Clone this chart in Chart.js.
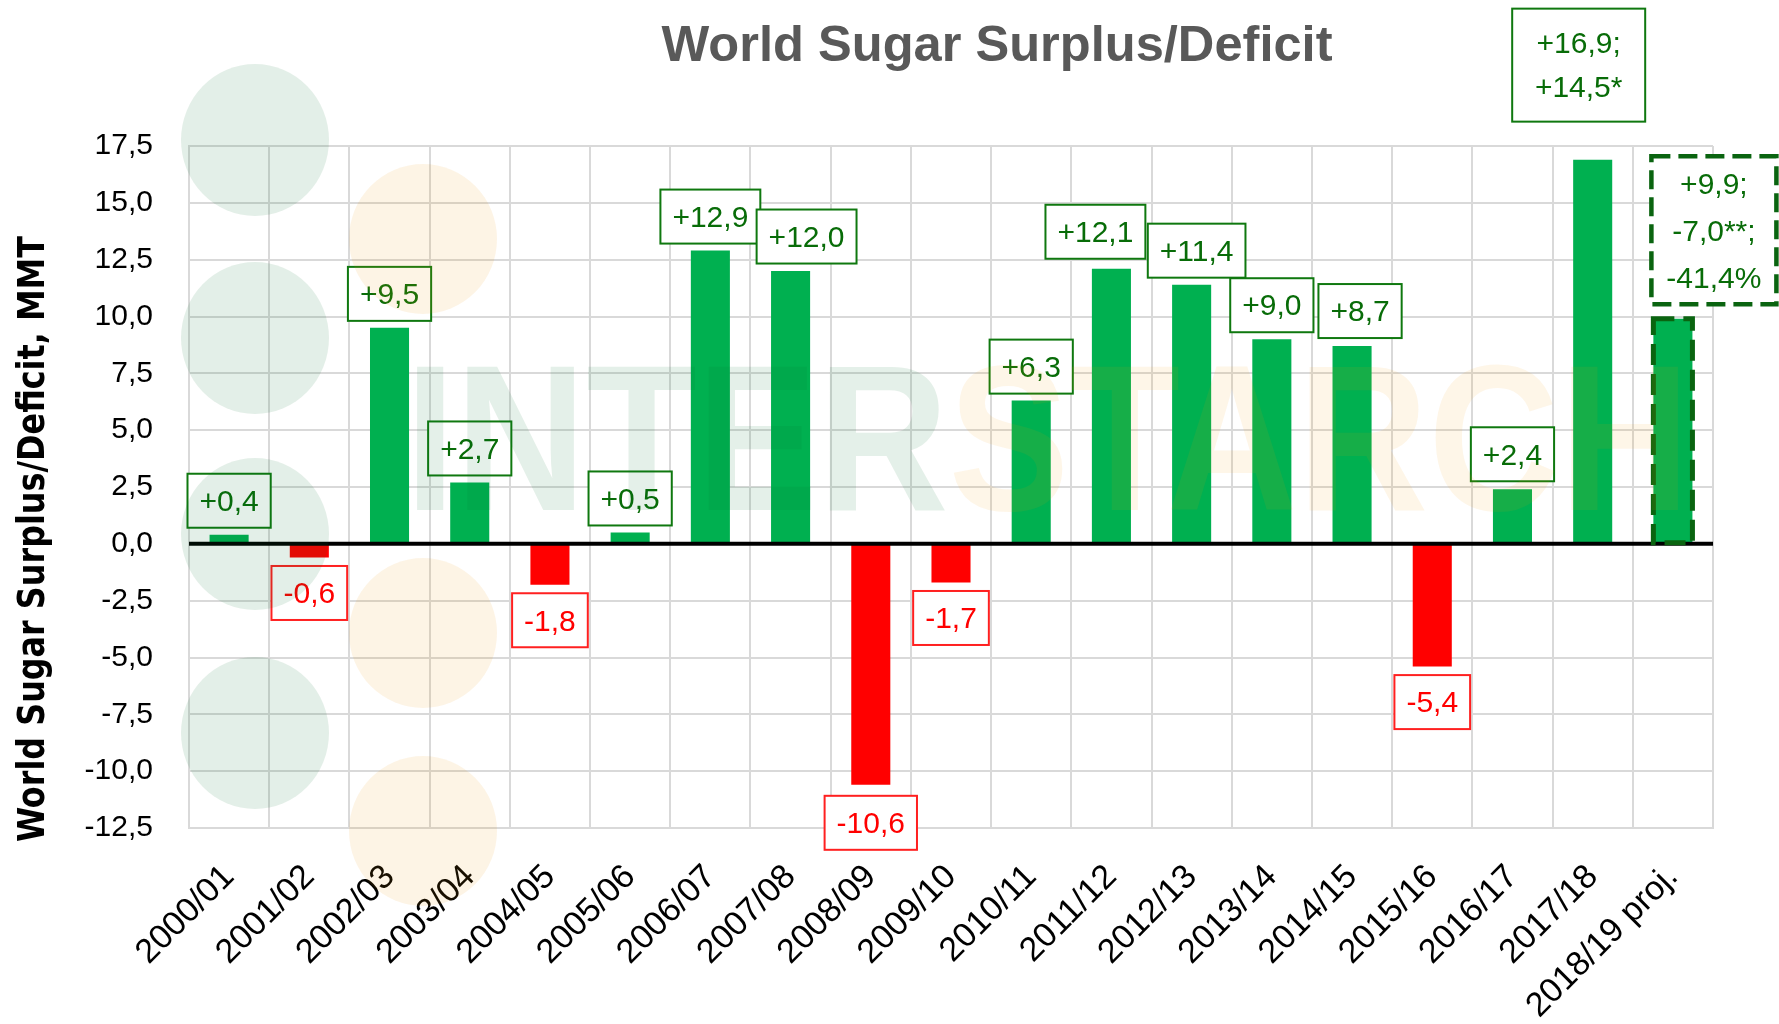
<!DOCTYPE html>
<html>
<head>
<meta charset="utf-8">
<script src="https://cdn.jsdelivr.net/npm/chart.js@4.4.1/dist/chart.umd.min.js"></script>
<style>
html,body{margin:0;padding:0;background:#fff;overflow:hidden;}
#wrap{width:1779px;height:1024px;}
canvas{display:block;}
</style>
</head>
<body>
<div id="wrap"><canvas id="c" width="1779" height="1024" style="width:1779px;height:1024px"></canvas></div>
<script>
// ---------- data ----------
const categories = ['2000/01','2001/02','2002/03','2003/04','2004/05','2005/06','2006/07','2007/08','2008/09','2009/10','2010/11','2011/12','2012/13','2013/14','2014/15','2015/16','2016/17','2017/18','2018/19 proj.'];
const surplusDeficit = [0.4,-0.6,9.5,2.7,-1.8,0.5,12.9,12.0,-10.6,-1.7,6.3,12.1,11.4,9.0,8.7,-5.4,2.4,16.9,9.9];
const altEstimate = [null,null,null,null,null,null,null,null,null,null,null,null,null,null,null,null,null,14.5,-7.0];
const altMarks = ['','','','','','','','','','','','','','','','','','*','**'];
const changePct = [null,null,null,null,null,null,null,null,null,null,null,null,null,null,null,null,null,null,-41.4];
const yTickValues = [-12.5,-10,-7.5,-5,-2.5,0,2.5,5,7.5,10,12.5,15,17.5];
const chartTitle = 'World Sugar Surplus/Deficit';
const yAxisTitle = 'World Sugar Surplus/Deficit, MMT';
const watermarkParts = ['INTER','STARCH'];

// ---------- label layout (positions/styles, not data) ----------
const labelDX  = [0,0,0,0,0,0,0,16,0,0,0,-16,5,0,8,0,0,-14,41];
const labelGap = [7,8.5,7,7,8.5,7,7,7.5,11,8.5,7,10,7,7,8,8.5,8,38,14.5];
const multiBox = {17:{w:133,h:113,lh:44,dashed:false}, 18:{w:125,h:148,lh:47,dashed:true}};

const GREEN = '#00B050', RED = '#FF0000';
const LBL_GREEN_TEXT = '#086C08', LBL_GREEN_BORDER = '#0F780F', DASH_GREEN = '#0A6410';
const FONT = '"Liberation Sans", Arial, sans-serif';

function fmt(v){ return (v>0?'+':'') + v.toFixed(1).replace('.',','); }
function labelLines(i){
  const lines = [fmt(surplusDeficit[i])];
  if (altEstimate[i] != null){
    lines[0] += ';';
    lines.push(fmt(altEstimate[i]) + altMarks[i] + (changePct[i] != null ? ';' : ''));
  }
  if (changePct[i] != null) lines.push(fmt(changePct[i]) + '%');
  return lines;
}

function fitText(c, text, x, y, width, align){
  const w = c.measureText(text).width;
  const s = width / w;
  c.save();
  c.translate(x, y);
  c.scale(s, 1);
  c.textAlign = align || 'center';
  c.fillText(text, 0, 0);
  c.restore();
}

const deco = {
  id: 'deco',
  beforeDraw(chart){
    const c = chart.ctx;
    c.save(); c.fillStyle = '#fff'; c.fillRect(0,0,chart.width,chart.height); c.restore();
  },
  afterDatasetsDraw(chart){
    const c = chart.ctx, a = chart.chartArea, ys = chart.scales.y;
    const meta = chart.getDatasetMeta(0);
    // zero axis line
    const y0 = ys.getPixelForValue(0);
    c.save();
    c.strokeStyle = '#000'; c.lineWidth = 4;
    c.beginPath(); c.moveTo(a.left, y0); c.lineTo(a.right, y0); c.stroke();
    c.restore();
    // dashed outline of projected bar
    const last = meta.data[meta.data.length-1];
    const lp = last.getProps(['x','y','base','width'], true);
    c.save();
    c.strokeStyle = DASH_GREEN; c.lineWidth = 5; c.setLineDash([21,9]);
    c.strokeRect(lp.x - lp.width/2, lp.y, lp.width, lp.base - lp.y);
    c.restore();
    // value labels
    meta.data.forEach((el, i) => {
      const p = el.getProps(['x','y','base'], true);
      const v = surplusDeficit[i];
      const lines = labelLines(i);
      c.save();
      c.font = '30px ' + FONT;
      let w, h, lh, dashed = false;
      if (multiBox[i]){ w = multiBox[i].w; h = multiBox[i].h; lh = multiBox[i].lh; dashed = multiBox[i].dashed; }
      else { w = c.measureText(lines[0]).width + 24; h = 54; lh = 0; }
      const cx = p.x + labelDX[i];
      const top = v >= 0 ? p.y - labelGap[i] - h : p.y + labelGap[i];
      const neg = v < 0;
      c.fillStyle = '#fff';
      c.fillRect(cx - w/2, top, w, h);
      if (dashed){ c.lineWidth = 4.5; c.setLineDash([19,8]); c.strokeStyle = DASH_GREEN; }
      else { c.lineWidth = 2; c.setLineDash([]); c.strokeStyle = neg ? '#FF2020' : LBL_GREEN_BORDER; }
      c.strokeRect(cx - w/2, top, w, h);
      c.setLineDash([]);
      c.fillStyle = neg ? RED : LBL_GREEN_TEXT;
      c.textAlign = 'center'; c.textBaseline = 'middle';
      const mid = top + h/2 + 2;
      lines.forEach((t, k) => { c.fillText(t, cx, mid + (k - (lines.length-1)/2) * lh); });
      c.restore();
    });
  },
  afterDraw(chart){
    const c = chart.ctx;
    // watermark circles
    c.save();
    c.fillStyle = 'rgba(0,110,50,0.11)';
    [[255,140],[255,338],[255,534],[255,733]].forEach(([x,y]) => { c.beginPath(); c.ellipse(x,y,74,76,0,0,Math.PI*2); c.fill(); });
    c.fillStyle = 'rgba(240,150,0,0.10)';
    [[423,239],[423,633],[423,831]].forEach(([x,y]) => { c.beginPath(); c.ellipse(x,y,74,75,0,0,Math.PI*2); c.fill(); });
    // watermark text
    c.font = 'bold 207px "Liberation Sans Narrow", "Liberation Sans", sans-serif';
    c.textBaseline = 'alphabetic'; c.textAlign = 'left';
    const w1 = c.measureText(watermarkParts[0]).width, w2 = c.measureText(watermarkParts[1]).width;
    const sx = 1285 / (w1 + w2);
    c.translate(405, 510); c.scale(sx, 1);
    c.fillStyle = 'rgba(0,110,50,0.105)';
    c.fillText(watermarkParts[0], 0, 0);
    c.fillStyle = 'rgba(240,150,0,0.09)';
    c.fillText(watermarkParts[1], w1, 0);
    c.restore();
    // chart title
    c.save();
    c.font = 'bold 50px ' + FONT;
    c.fillStyle = '#595959'; c.textBaseline = 'alphabetic';
    fitText(c, chartTitle, 997, 61, 671, 'center');
    c.restore();
    // y axis title
    c.save();
    c.font = 'bold 37px "DejaVu Sans Condensed", "DejaVu Sans", sans-serif';
    c.fillStyle = '#000'; c.textBaseline = 'alphabetic';
    c.translate(44, 539); c.rotate(-Math.PI/2);
    fitText(c, yAxisTitle, 0, 0, 606, 'center');
    c.restore();
  }
};

new Chart(document.getElementById('c'), {
  type: 'bar',
  data: {
    labels: categories,
    datasets: [{
      data: surplusDeficit,
      backgroundColor: surplusDeficit.map(v => v < 0 ? RED : GREEN),
      borderWidth: 0,
      categoryPercentage: 1,
      barPercentage: 0.487
    }]
  },
  options: {
    responsive: false,
    devicePixelRatio: 1,
    animation: false,
    layout: { padding: { top: 146, right: 66, left: 0, bottom: 0 } },
    plugins: { legend: { display: false }, tooltip: { enabled: false }, title: { display: false } },
    scales: {
      x: {
        offset: true,
        grid: { color: '#D9D9D9', lineWidth: 2, drawTicks: false, offset: true },
        border: { color: '#D9D9D9', width: 2 },
        ticks: { font: { family: FONT, size: 34 }, color: '#000', minRotation: 45, maxRotation: 45, autoSkip: false, padding: 29 },
        afterFit(s){ s.height = 196; }
      },
      y: {
        min: -12.5, max: 17.5,
        afterBuildTicks(s){ s.ticks = yTickValues.map(v => ({ value: v })); },
        ticks: { font: { family: FONT, size: 30 }, color: '#000', padding: 36, callback: v => Number(v).toFixed(1).replace('.', ',') },
        grid: { color: '#D9D9D9', lineWidth: 2, drawTicks: false },
        border: { color: '#D9D9D9', width: 2 },
        afterFit(s){ s.width = 189; }
      }
    }
  },
  plugins: [deco]
});
</script>
</body>
</html>
